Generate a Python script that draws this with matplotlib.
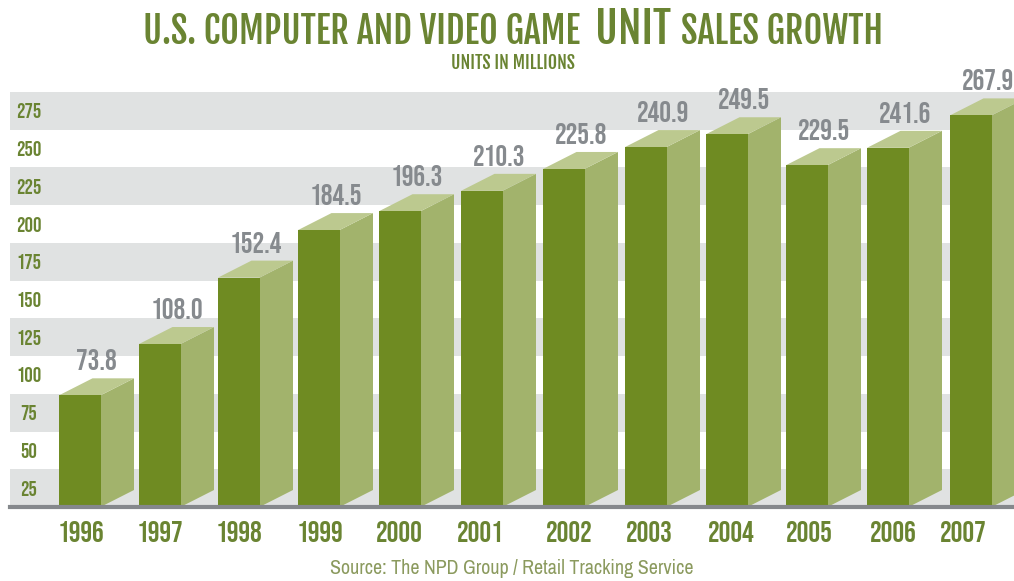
#!/usr/bin/env python3
import matplotlib
matplotlib.use("Agg")
import matplotlib.pyplot as plt

# ========= data =========
years = ["1996", "1997", "1998", "1999", "2000", "2001",
         "2002", "2003", "2004", "2005", "2006", "2007"]
value_labels = ["73.8", "108.0", "152.4", "184.5", "196.3", "210.3",
                "225.8", "240.9", "249.5", "229.5", "241.6", "267.9"]
# bar heights as drawn, read off the bands (the picture is not quite to scale)
bar_heights = [74, 108, 152, 183.5, 196, 209.5, 224, 238.5, 247, 226.5, 238, 259.5]
y_labels = ["25", "50", "75", "100", "125", "150", "175", "200", "225", "250", "275"]
band_top = [25, 75, 125, 175, 225, 275]

# ========= layout (pixels of the 1014x581 image) =========
W, H = 1014, 581
bar_left = [59, 139, 218, 298, 379, 461, 543, 625, 706, 786, 867, 950]
year_x = [81, 160, 239, 320, 399, 480, 569, 649, 731, 809, 893, 963]
bar_w = 41.5
depth_x = 33.5
depth_px = 17
base_px = 507
top_px = 92
units_per_px = 275 / (base_px - top_px)
depth_y = depth_px * units_per_px

GREEN = "#6f8b22"
SIDE = "#a2b36c"
TOP = "#bcc98f"
BAND = "#e0e2e2"
TEXT_GREEN = "#6a8432"
GREY = "#868a8e"
BASE = "#85888c"

HEAD = ["Bebas Neue", "Oswald", "Liberation Sans", "DejaVu Sans"]
TITLE = ["Fjalla One", "Oswald", "Liberation Sans", "DejaVu Sans"]
BODY = ["Archivo Narrow", "Oswald", "Liberation Sans", "DejaVu Sans"]
plt.rcParams["font.family"] = HEAD

fig = plt.figure(figsize=(W / 100, H / 100), dpi=100)
ax = fig.add_axes([10 / W, 1 - base_px / H, 1 - 10 / W, (base_px - top_px) / H])
ax.set_xlim(10, W)
ax.set_ylim(0, 275)
for s in ax.spines.values():
    s.set_visible(False)
ax.spines["bottom"].set_visible(True)
ax.spines["bottom"].set_color(BASE)
ax.spines["bottom"].set_linewidth(3)
ax.spines["bottom"].set_zorder(6)

# grey bands, one every other 25 units
for b in band_top:
    ax.axhspan(b - 25, b, color=BAND, lw=0, zorder=0)

# 3d looking bars
ax.bar(bar_left, bar_heights, width=bar_w, align="edge", color=GREEN, zorder=3)
for x, h in zip(bar_left, bar_heights):
    xr = x + bar_w
    ax.fill([xr, xr + depth_x, xr + depth_x, xr], [0, depth_y, h + depth_y, h],
            color=SIDE, lw=0, zorder=2, clip_on=True)
    ax.fill([x, xr, xr + depth_x, x + depth_x], [h, h, h + depth_y, h + depth_y],
            color=TOP, lw=0, zorder=2, clip_on=False)

for x, h, lab in zip(bar_left, bar_heights, value_labels):
    ax.text(x + bar_w / 2 + 17, h + depth_y + 8 * units_per_px, lab, ha="center", va="bottom",
            fontsize=21, color=GREY, clip_on=False, zorder=5)

# ticks
ax.set_xticks(year_x, years)
ax.set_yticks([25 * i - 12.5 for i in range(1, len(y_labels) + 1)], y_labels)
ax.tick_params(axis="x", length=0, pad=10, labelsize=21, labelcolor=TEXT_GREEN)
ax.tick_params(axis="y", length=0, pad=-13.7, labelsize=15, labelcolor=TEXT_GREEN)
for t in ax.get_yticklabels():
    t.set_ha("center")

# title in three pieces, UNIT is larger
fig.text(143 / W, 1 - 43.5 / H, "U.S. COMPUTER AND VIDEO GAME", fontsize=26,
         color=TEXT_GREEN, ha="left", va="baseline", family=TITLE)
fig.text(595 / W, 1 - 43.5 / H, "UNIT", fontsize=31,
         color=TEXT_GREEN, ha="left", va="baseline", family=TITLE)
fig.text(681 / W, 1 - 43.5 / H, "SALES GROWTH", fontsize=26,
         color=TEXT_GREEN, ha="left", va="baseline", family=TITLE)
fig.text(513 / W, 1 - 63 / H, "UNITS IN MILLIONS", fontsize=12.8,
         color=TEXT_GREEN, ha="center", va="center", family=TITLE)
fig.text(512 / W, 1 - 568 / H, "Source: The NPD Group / Retail Tracking Service", fontsize=14.4,
         color="#8b9a5e", ha="center", va="center", family=BODY)

fig.savefig("out.png", dpi=100)
